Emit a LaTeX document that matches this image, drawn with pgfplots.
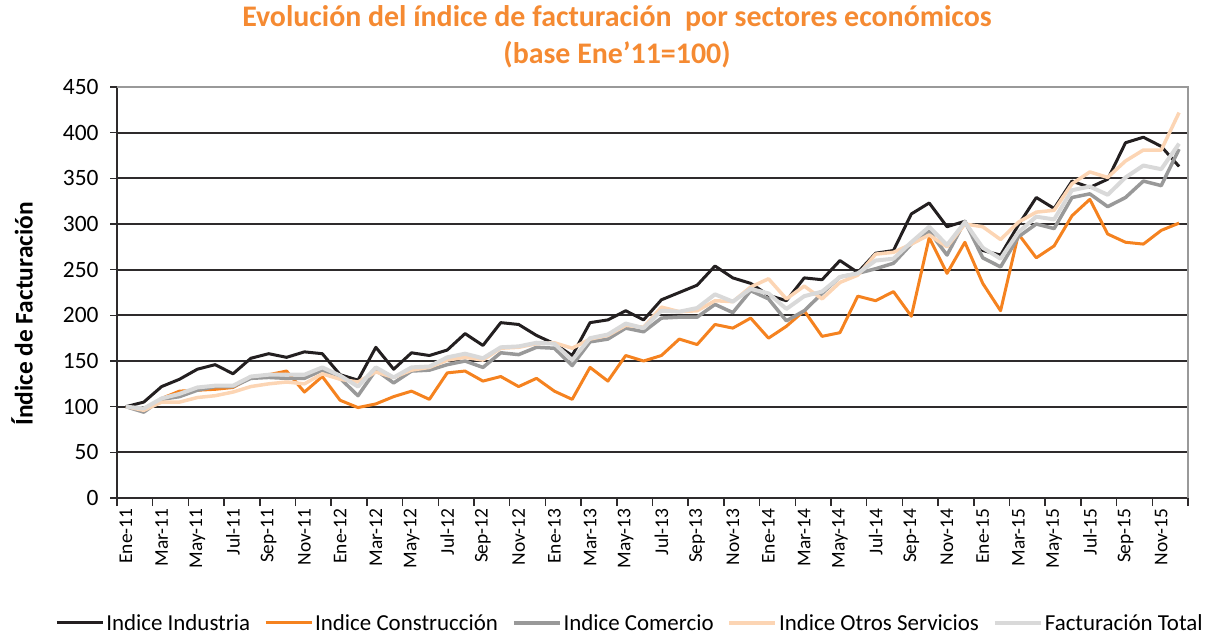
\documentclass[border=0pt]{standalone}
\usepackage{pgfplots}
\pgfplotsset{compat=1.18}
\usepackage{pgfplotstable}
\usepackage{fontspec}
\setmainfont{Carlito}
\definecolor{cInd}{HTML}{231F20}
\definecolor{cCon}{HTML}{F5821F}
\definecolor{cCom}{HTML}{999999}
\definecolor{cOtr}{HTML}{FCD5B4}
\definecolor{cTot}{HTML}{D9D9D9}
\definecolor{cTit}{HTML}{F58A32}
\definecolor{cGrid}{HTML}{2E2B2C}

\pgfplotstableread{
i ind con com otr tot
0 100 100 100 100 100
1 105 97 94 96 98
2 122 109 108 105 109
3 130 117 111 105 114
4 141 118 118 110 121
5 146 119 122 112 123
6 136 121 122 116 123
7 153 132 131 122 133
8 158 135 132 125 135
9 154 139 131 127 135
10 160 116 131 125 135
11 158 133 140 136 143
12 135 107 131 130 134
13 129 99 112 127 122
14 165 103 140 138 143
15 141 111 126 132 132
16 159 117 139 140 143
17 156 108 140 143 144
18 162 137 146 151 154
19 180 139 150 154 158
20 167 128 143 151 153
21 192 133 159 164 165
22 190 122 157 165 166
23 178 131 165 169 170
24 169 117 164 170 169
25 156 108 145 164 151
26 192 143 171 174 175
27 195 128 174 178 179
28 205 156 186 189 191
29 195 150 182 187 186
30 217 156 197 209 205
31 225 174 198 204 204
32 233 168 198 205 208
33 254 190 212 216 223
34 241 186 203 215 215
35 235 197 227 231 229
36 222 175 218 240 224
37 216 188 194 218 207
38 241 205 205 232 221
39 239 177 224 218 226
40 260 181 242 236 242
41 247 221 246 244 246
42 268 216 251 267 260
43 271 226 257 269 262
44 311 199 278 278 280
45 323 285 292 288 297
46 297 246 266 275 277
47 303 280 303 300 302
48 271 235 263 297 274
49 266 205 253 283 262
50 299 289 286 302 291
51 329 263 300 313 308
52 317 276 295 315 305
53 347 309 329 344 337
54 340 327 333 357 341
55 349 289 319 351 332
56 389 280 329 369 351
57 395 278 347 381 364
58 385 293 342 381 360
59 363 301 382 422 388
}\datatable

\begin{document}
\begin{tikzpicture}
\path[use as bounding box] (0,0) rectangle (1210bp,637bp);
\node[font=\fontsize{30}{37}\selectfont\bfseries, text=cTit, align=center] at (617bp,600bp)
  {Evolución del índice de facturación\ \ por sectores económicos\\(base Ene'11=100)};
\node[font=\fontsize{25.5}{30}\selectfont\bfseries, rotate=90] at (22bp,323bp) {Índice de Facturación};
\begin{axis}[
  at={(117bp,139bp)}, anchor=south west,
  scale only axis, width=1071bp, height=411bp,
  xmin=-0.5, xmax=59.5, ymin=0, ymax=450,
  axis x line*=bottom, axis y line*=left,
  axis line style={cGrid, line width=1.8bp},
  ytick={0,50,...,450},
  ymajorgrids, major grid style={cGrid, line width=1.8bp},
  xtick={0,2,...,58},
  xticklabels={Ene-11,Mar-11,May-11,Jul-11,Sep-11,Nov-11,Ene-12,Mar-12,May-12,Jul-12,Sep-12,Nov-12,Ene-13,Mar-13,May-13,Jul-13,Sep-13,Nov-13,Ene-14,Mar-14,May-14,Jul-14,Sep-14,Nov-14,Ene-15,Mar-15,May-15,Jul-15,Sep-15,Nov-15},
  minor xtick={-0.5,1.5,...,59.5},
  tick align=outside,
  major x tick style={draw=none},
  minor tick length=8bp, major tick length=7bp,
  every tick/.style={cGrid, line width=1.5bp},
  xticklabel style={rotate=90, anchor=east, font=\fontsize{19.5}{23}\selectfont},
  yticklabel style={font=\fontsize{23.5}{27}\selectfont, xshift=-8bp},
  /pgf/number format/assume math mode=true,
  legend style={at={(0.479,-0.304)}, anchor=center, draw=none, fill=none,
    legend columns=5, font=\fontsize{23}{27}\selectfont,
    /tikz/every even column/.append style={column sep=12bp}},
  legend image code/.code={\draw[#1] (0bp,0bp) -- (46bp,0bp);},
  clip=false,
]
\addplot[cInd, line width=3bp, line join=round] table[x=i, y=ind] {\datatable};
\addlegendentry{Indice Industria}
\addplot[cCon, line width=3bp, line join=round] table[x=i, y=con] {\datatable};
\addlegendentry{Indice Construcción}
\addplot[cCom, line width=3.5bp, line join=round] table[x=i, y=com] {\datatable};
\addlegendentry{Indice Comercio}
\addplot[cOtr, line width=3.5bp, line join=round] table[x=i, y=otr] {\datatable};
\addlegendentry{Indice Otros Servicios}
\addplot[cTot, line width=4bp, line join=round] table[x=i, y=tot] {\datatable};
\addlegendentry{Facturación Total}
\draw[cCom, line width=1.8bp] (rel axis cs:0,1) -- (rel axis cs:1,1) -- (rel axis cs:1,0);
\end{axis}
\end{tikzpicture}
\end{document}
